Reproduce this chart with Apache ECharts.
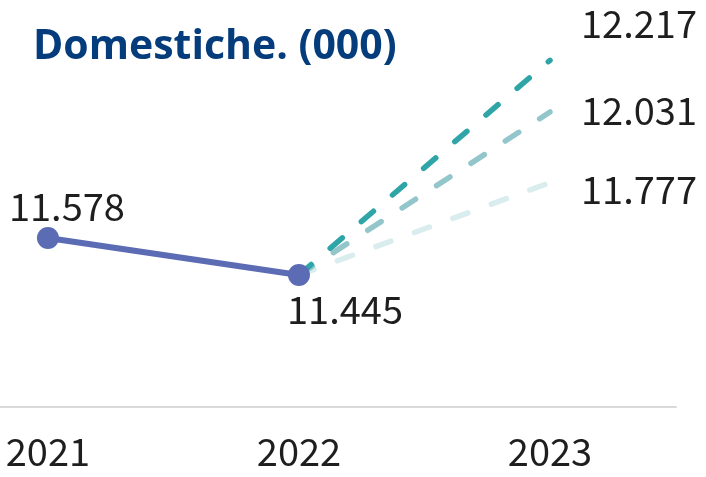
<!DOCTYPE html>
<html>
<head>
<meta charset="utf-8">
<script src="https://cdn.jsdelivr.net/npm/echarts@6/dist/echarts.min.js"></script>
<style>
  html, body { margin: 0; padding: 0; background: #fff; }
  #chart { width: 706px; height: 477px; }
</style>
</head>
<body>
<div id="chart"></div>
<script>
// dati
const years = ['2021', '2022', '2023'];
const actual = [11.578, 11.445, null];
const scenarioHigh = [null, 11.445, 12.217];
const scenarioMid = [null, 11.445, 12.031];
const scenarioLow = [null, 11.445, 11.777];

const numFont = "'Noto Sans CJK JP', 'Liberation Sans', sans-serif";

function toPoints(arr) {
  const out = [];
  arr.forEach((v, i) => { if (v !== null) out.push([i, v]); });
  return out;
}

function fmt(v) {
  return v.toFixed(3);
}

function scenario(arr, color, labelOffset) {
  return {
    type: 'line',
    data: toPoints(arr),
    symbol: 'none',
    lineStyle: { color: color, width: 5.5, type: [16, 25], cap: 'round' },
    endLabel: {
      show: true,
      formatter: p => fmt(p.value[1]),
      distance: 0,
      offset: labelOffset,
      fontFamily: numFont,
      fontSize: 38,
      color: '#1e1e1e'
    },
    z: 2
  };
}

const chart = echarts.init(document.getElementById('chart'));

chart.setOption({
  animation: false,
  title: {
    text: 'Domestiche. (000)',
    left: 28,
    top: 22,
    textStyle: { fontFamily: 'Open Sans', fontWeight: 'bold', fontSize: 41, color: '#053c7c' }
  },
  grid: { left: 0, right: 30, top: 40, bottom: 70 },
  xAxis: {
    type: 'value',
    min: -0.191,
    max: 2.502,
    axisLine: { show: true, onZero: false, lineStyle: { color: '#d9d9d9', width: 2 } },
    axisTick: { show: false },
    splitLine: { show: false },
    axisLabel: {
      customValues: [0, 1, 2],
      formatter: v => years[Math.round(v)],
      margin: 26,
      fontFamily: numFont,
      fontSize: 38,
      color: '#1e1e1e'
    }
  },
  yAxis: {
    type: 'value',
    min: 10.97,
    max: 12.29,
    show: false,
    splitLine: { show: false }
  },
  series: [
    scenario(scenarioLow, '#d9ecee', [31, 7]),
    scenario(scenarioMid, '#93c6cb', [31, -1]),
    scenario(scenarioHigh, '#2fa5a8', [31, -37]),
    {
      type: 'line',
      data: toPoints(actual).map((p, i) => ({
        value: p,
        label: i === 0
          ? { show: true, position: 'top', offset: [19, 4] }
          : { show: true, position: 'bottom', offset: [46, 0] }
      })),
      symbol: 'circle',
      symbolSize: 22,
      itemStyle: { color: '#5b6bb4' },
      lineStyle: { color: '#5b6bb4', width: 6 },
      label: {
        formatter: p => fmt(p.value[1]),
        fontFamily: numFont,
        fontSize: 38,
        color: '#1e1e1e'
      },
      z: 3
    }
  ]
});
</script>
</body>
</html>
